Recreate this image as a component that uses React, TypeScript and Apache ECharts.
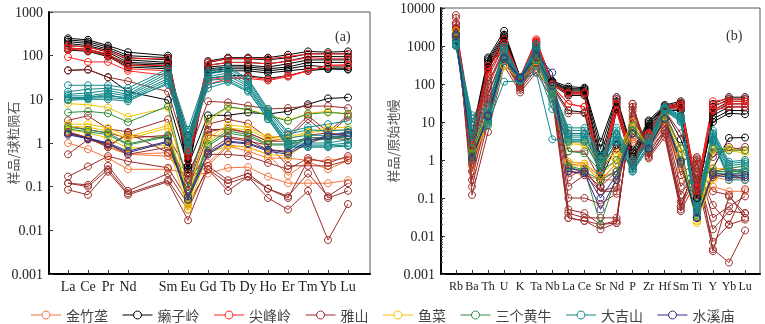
import React, { useEffect, useRef } from "react";
import * as echarts from "echarts";

// ---------- Categories ----------
const reeLabels = ["La", "Ce", "Pr", "Nd", "", "Sm", "Eu", "Gd", "Tb", "Dy", "Ho", "Er", "Tm", "Yb", "Lu"];
const reeX = [0, 1, 2, 3, 5, 6, 7, 8, 9, 10, 11, 12, 13, 14];
const spiderLabels = ["Rb", "Ba", "Th", "U", "K", "Ta", "Nb", "La", "Ce", "Sr", "Nd", "P", "Zr", "Hf", "Sm", "Ti", "Y", "Yb", "Lu"];

const groupNames = ["金竹垄", "癞子岭", "尖峰岭", "雅山", "鱼菜", "三个黄牛", "大吉山", "水溪庙"];
const groupColors = ["#f4743b", "#000000", "#ff2222", "#9b2d2a", "#f2c200", "#2e8b3e", "#12888a", "#2e2e80"];

// ---------- (a) chondrite-normalised REE ----------
const reeJinzhulong = [
  [1.0, 0.72, 0.45, 0.25, 0.25, 0.2, 0.2, 0.27, 0.28, 0.17, 0.12, 0.12, 0.12, 0.14],
  [1.8, 1.35, 0.85, 0.55, 0.6, 0.2, 0.35, 0.9, 0.8, 0.55, 0.18, 0.37, 0.25, 0.4],
  [1.7, 1.3, 0.8, 0.55, 0.5, 0.15, 0.3, 0.85, 0.65, 0.45, 0.45, 0.4, 0.4, 0.45],
];
const reeLaiziling = [
  [250, 230, 170, 120, 100, 0.6, 75, 90, 90, 90, 105, 125, 120, 125],
  [230, 210, 155, 100, 90, 0.4, 70, 85, 85, 80, 90, 110, 110, 110],
  [210, 190, 140, 90, 80, 0.3, 60, 70, 70, 65, 75, 95, 95, 95],
  [190, 170, 130, 80, 70, 0.25, 55, 60, 60, 55, 65, 80, 80, 80],
  [170, 160, 120, 70, 65, 0.2, 50, 55, 55, 50, 55, 70, 70, 70],
  [150, 140, 105, 65, 60, 0.3, 45, 50, 50, 45, 50, 60, 55, 55],
  [140, 130, 100, 60, 55, 1.0, 40, 45, 45, 40, 45, 50, 50, 48],
  [135, 125, 95, 55, 50, 1.5, 30, 35, 35, 30, 35, 45, 50, 50],
  [46, 48, 32, 15, 9.6, 0.3, 4.3, 4.3, 5, 4.6, 5.3, 7.7, 10.5, 11],
];
const reeJianfengling = [
  [170, 155, 125, 85, 85, 0.8, 72, 85, 85, 85, 95, 110, 110, 110],
  [150, 140, 110, 60, 60, 0.5, 60, 70, 70, 65, 75, 90, 85, 85],
  [140, 130, 100, 50, 45, 0.4, 28, 32, 33, 28, 35, 45, 60, 62],
  [93, 72, 72, 45, 35, 0.6, 22, 30, 30, 27, 33, 45, 60, 60],
];
const reeYashan = [
  [46, 48, 32, 26, 15, 0.5, 9, 8.5, 7.2, 6, 6.3, 7, 7, 6.3],
  [3.3, 4.2, 2.1, 1.8, 3.5, 0.15, 2.7, 3.5, 2.8, 1.3, 1.5, 4.2, 1.8, 4.3],
  [0.55, 1.2, 0.9, 1.5, 1.3, 0.1, 2, 2.1, 1.7, 1.1, 1.3, 3.5, 1.5, 4],
  [1.7, 1.25, 0.95, 0.55, 0.8, 0.08, 1.5, 1.4, 1.2, 0.7, 0.65, 1.5, 1.7, 1.5],
  [0.17, 0.29, 0.5, 0.38, 0.27, 0.05, 0.55, 0.55, 0.5, 0.35, 0.25, 0.45, 0.35, 0.5],
  [0.12, 0.11, 0.3, 0.08, 0.2, 0.04, 0.25, 0.12, 0.17, 0.09, 0.06, 0.2, 0.06, 0.12],
  [0.085, 0.065, 0.22, 0.065, 0.13, 0.017, 0.25, 0.08, 0.17, 0.055, 0.03, 0.08, 0.006, 0.04],
  [0.12, 0.1, 0.25, 0.07, 0.14, 0.03, 0.3, 0.14, 0.2, 0.09, 0.055, 0.4, 0.055, 0.08],
  [1.8, 1.3, 0.8, 1.7, 0.6, 0.12, 0.65, 1.3, 1.1, 0.9, 0.3, 0.3, 0.3, 0.4],
  [2.5, 2, 1.7, 1.3, 1.5, 0.2, 1.8, 2.2, 1.7, 1.1, 1.1, 1.2, 1.3, 1.2],
];
const reeYucai = [
  [8, 7.5, 6.5, 4, 6.5, 0.05, 3.2, 6.5, 5.8, 4.5, 3.3, 4.8, 5.3, 4.5],
  [2.7, 2.7, 2.2, 1.4, 2.5, 0.04, 1.3, 2.6, 2.3, 1.4, 1.35, 1.8, 2.2, 2.3],
  [2.4, 2.3, 1.9, 1.25, 2.2, 0.035, 1.05, 2.2, 2.0, 1.25, 1.2, 1.7, 2.0, 2.0],
  [2.0, 1.7, 1.3, 0.75, 0.9, 0.03, 0.6, 0.85, 0.8, 0.55, 0.5, 1.0, 1.3, 1.4],
];
const reeSangehuangniu = [
  [5, 5.3, 4.8, 3, 7, 0.1, 3.6, 6.8, 5.8, 4.2, 3.2, 4.6, 5, 4.7],
  [2.3, 2, 1.7, 0.95, 1.5, 0.06, 0.95, 1.9, 1.55, 0.95, 0.95, 1.35, 1.3, 1.5],
  [2.1, 1.8, 1.55, 0.9, 1.4, 0.05, 0.85, 1.7, 1.4, 0.9, 0.9, 1.2, 1.2, 1.4],
];
const reeDajishan = [
  [21, 21, 21, 18, 50, 2.0, 45, 55, 30, 6, 1.8, 2.3, 2.7, 3.2],
  [15, 17, 18, 15, 45, 1.5, 40, 50, 28, 5.5, 1.6, 2, 1.9, 2],
  [13, 14, 16, 13, 40, 1.2, 38, 45, 25, 5, 1.3, 1.5, 1.5, 1.8],
  [12, 12, 14, 12, 35, 1.0, 33, 40, 22, 4.5, 1.1, 1.2, 1.2, 1.5],
  [11, 11, 12, 11, 30, 0.8, 30, 35, 20, 4.2, 1.0, 1.0, 1.0, 1.2],
  [10, 10.5, 11, 10, 27, 0.7, 27, 30, 18, 4, 0.9, 0.9, 0.9, 1.0],
  [9.5, 10, 10, 9, 24, 0.7, 22, 27, 16, 3.6, 0.85, 0.85, 0.85, 0.9],
  [10, 11, 13, 10, 22, 1.1, 18, 25, 15, 3.5, 0.8, 0.8, 0.8, 0.85],
];
const reeShuiximiao = [
  [1.55, 1.25, 0.95, 0.6, 1.05, 0.05, 0.55, 1.05, 0.95, 0.65, 0.55, 1.0, 1.4, 1.5],
  [1.65, 1.3, 1.0, 0.65, 1.1, 0.06, 0.6, 1.1, 1.0, 0.7, 0.6, 1.1, 1.5, 1.7],
];

// ---------- (b) primitive-mantle-normalised spider ----------
const spJinzhulong = [
  [2500, 0.5, 10, 400, 120, 400, 60, 0.5, 0.4, 0.3, 0.3, 3, 2, 10, 0.4, 0.05, 0.2, 0.15, 0.15],
  [2200, 0.8, 12, 450, 130, 450, 65, 0.9, 0.8, 0.35, 0.5, 4, 2, 12, 0.7, 0.05, 0.4, 0.4, 0.4],
  [2000, 0.7, 11, 420, 125, 420, 60, 0.8, 0.7, 0.3, 0.5, 3.5, 2, 11, 0.6, 0.04, 0.35, 0.3, 0.35],
];
const spLaiziling = [
  [3000, 5, 500, 2500, 150, 1300, 120, 85, 80, 3, 45, 1.8, 11, 28, 35, 0.2, 30, 45, 45],
  [2500, 4, 450, 2000, 150, 1200, 115, 75, 75, 2, 40, 1.5, 10, 26, 32, 0.15, 25, 40, 40],
  [2000, 3, 400, 1800, 150, 1100, 110, 70, 70, 1.2, 35, 1.2, 9, 25, 30, 0.12, 20, 35, 35],
  [1800, 2, 350, 1600, 150, 1000, 105, 65, 65, 0.8, 30, 1.0, 8, 24, 27, 0.1, 18, 30, 30],
  [1600, 1.5, 300, 1500, 150, 900, 100, 60, 60, 0.5, 25, 0.9, 7, 23, 25, 0.1, 15, 25, 25],
  [1500, 1.2, 280, 1300, 150, 850, 100, 55, 55, 0.3, 22, 0.8, 6, 22, 22, 0.12, 12, 20, 20],
  [1400, 1, 250, 1200, 150, 800, 95, 50, 50, 0.2, 20, 0.7, 5, 20, 20, 0.15, 10, 17, 16],
  [1600, 2.5, 300, 900, 130, 600, 90, 20, 18, 0.3, 2.5, 0.6, 4, 20, 3.5, 0.3, 0.6, 3.8, 3.9],
];
const spJianfengling = [
  [4000, 4, 300, 1500, 150, 1500, 100, 60, 60, 0.5, 40, 1.0, 5, 25, 32, 0.2, 35, 40, 40],
  [3000, 3, 250, 1200, 150, 1400, 95, 55, 55, 0.4, 30, 0.9, 5, 24, 28, 0.15, 28, 35, 35],
  [2500, 2.5, 200, 1000, 140, 1300, 90, 30, 25, 0.4, 20, 0.8, 4.5, 22, 25, 0.12, 22, 30, 30],
  [2200, 2, 200, 1000, 140, 1200, 90, 30, 25, 0.5, 20, 0.8, 4, 22, 25, 0.2, 20, 25, 25],
];
const spYashan = [
  [6500, 0.12, 5.5, 300, 60, 200, 40, 0.03, 0.025, 0.015, 0.022, 30, 1.1, 4, 0.045, 0.3, 0.0045, 0.002, 0.014],
  [5500, 0.2, 10, 400, 70, 250, 50, 0.05, 0.04, 0.02, 0.025, 25, 1.3, 5, 0.06, 0.4, 0.007, 0.02, 0.027],
  [4000, 0.3, 20, 500, 80, 300, 60, 0.04, 0.03, 0.03, 0.03, 20, 1.5, 6, 0.08, 0.5, 0.015, 0.045, 0.04],
  [3500, 0.5, 30, 600, 90, 350, 70, 0.1, 0.1, 0.07, 0.13, 15, 2, 8, 0.12, 0.6, 0.065, 0.02, 0.17],
  [3000, 1, 50, 700, 100, 400, 80, 0.2, 0.4, 0.15, 0.2, 12, 2.5, 10, 0.2, 0.8, 0.15, 0.12, 0.03],
  [2500, 2, 80, 800, 110, 500, 90, 0.5, 0.45, 0.2, 0.5, 10, 3, 12, 0.4, 1, 0.35, 0.45, 0.3],
  [2200, 3, 100, 900, 120, 600, 100, 1.7, 1.7, 0.3, 0.8, 8, 3, 15, 1, 1.2, 0.5, 0.6, 0.5],
  [2000, 5, 150, 1000, 100, 700, 100, 5, 5, 0.5, 2, 6, 3, 18, 2, 0.5, 1.5, 1.8, 2.2],
  [2800, 10, 120, 600, 90, 500, 80, 17, 17, 1, 2, 5, 2.5, 20, 5, 0.3, 1.2, 2.2, 1.8],
  [1800, 0.8, 40, 400, 80, 350, 70, 0.35, 0.6, 0.15, 0.15, 25, 1.8, 6, 0.06, 0.9, 0.03, 0.06, 0.11],
  [2000, 1.5, 60, 500, 90, 450, 80, 0.03, 0.025, 0.02, 0.022, 30, 1.2, 5, 0.05, 1.1, 0.004, 0.11, 0.04],
];
const spYucai = [
  [2500, 2, 20, 600, 150, 600, 80, 3, 2.7, 1, 1.5, 10, 2, 15, 2, 0.025, 2, 2, 1.7],
  [2000, 1.5, 15, 500, 150, 500, 70, 2.7, 2.5, 0.8, 1.2, 8, 2, 14, 1.5, 0.022, 1.8, 1.8, 1.5],
  [1800, 1.2, 12, 400, 140, 400, 60, 0.9, 0.8, 0.4, 1, 6, 2, 12, 0.9, 0.03, 0.6, 0.6, 0.7],
  [1600, 1, 10, 300, 130, 300, 50, 0.7, 0.7, 0.3, 0.8, 5, 2, 12, 0.8, 0.025, 0.3, 0.5, 0.5],
];
const spSangehuangniu = [
  [2000, 2, 15, 500, 150, 500, 70, 1.7, 1.5, 0.5, 1, 8, 2, 15, 2, 0.03, 2, 1.8, 1.8],
  [1800, 1.5, 12, 450, 140, 450, 65, 0.7, 0.55, 0.02, 0.4, 6, 2, 13, 1, 0.03, 0.5, 0.5, 0.5],
  [1700, 1.3, 11, 400, 140, 420, 60, 0.65, 0.5, 0.3, 0.5, 6, 2, 13, 0.9, 0.03, 0.45, 0.45, 0.45],
];
const spDajishan = [
  [1300, 15, 25, 1000, 150, 1100, 80, 7, 7, 1.5, 7, 1, 4, 25, 15, 0.07, 6, 0.9, 1],
  [1200, 12, 20, 900, 140, 1000, 70, 6, 6, 1.3, 6, 0.9, 3.5, 24, 14, 0.06, 5, 0.8, 0.9],
  [1100, 10, 18, 800, 140, 900, 60, 5, 5, 1.1, 5, 0.8, 3, 23, 13, 0.05, 5, 0.7, 0.8],
  [1100, 8, 15, 700, 130, 800, 50, 4.5, 4.5, 1, 4.5, 0.7, 3, 22, 12, 0.05, 4.5, 0.6, 0.7],
  [1000, 6, 12, 600, 130, 700, 40, 4, 4, 0.9, 4, 0.6, 2.5, 21, 11, 0.04, 4, 0.5, 0.6],
  [1000, 5, 10, 500, 120, 600, 30, 3.5, 3.5, 0.8, 3.5, 0.5, 2.2, 20, 10, 0.035, 3.5, 0.4, 0.5],
  [1050, 4, 9, 115, 120, 200, 3.5, 3, 3, 0.6, 3, 0.5, 2, 20, 10, 0.03, 3, 0.3, 0.3],
  [1200, 3, 8, 400, 125, 300, 22, 3.2, 3.2, 0.5, 3.2, 0.55, 2.5, 22, 12, 0.04, 3.2, 0.35, 0.4],
];
const spShuiximiao = [
  [2000, 1, 15, 500, 150, 600, 200, 0.5, 0.45, 0.05, 0.3, 5, 2, 12, 0.8, 0.03, 0.4, 0.35, 0.35],
  [1800, 1.2, 14, 450, 140, 500, 90, 0.6, 0.5, 0.1, 0.4, 5, 2, 12, 0.9, 0.03, 0.45, 0.4, 0.4],
];

const reeGroups = [reeJinzhulong, reeLaiziling, reeJianfengling, reeYashan, reeYucai, reeSangehuangniu, reeDajishan, reeShuiximiao];
const spGroups = [spJinzhulong, spLaiziling, spJianfengling, spYashan, spYucai, spSangehuangniu, spDajishan, spShuiximiao];

const SERIF = "Liberation Serif, Times New Roman, serif";
const CJK = "Noto Sans CJK SC, sans-serif";

function logLabel(v: number) {
  const e = Math.round(Math.log10(v));
  return e >= 0 ? String(Math.pow(10, e)) : Math.pow(10, e).toFixed(-e);
}

function makeSeries(groups: number[][][], xs: number[], axis: number) {
  const out: any[] = [];
  groups.forEach((lines, gi) => {
    lines.forEach((arr) => {
      out.push({
        type: "line",
        name: groupNames[gi],
        xAxisIndex: axis,
        yAxisIndex: axis,
        data: arr.map((v, i) => [xs[i], v]),
        symbol: "circle",
        symbolSize: 7,
        lineStyle: { width: 1, color: groupColors[gi] },
        itemStyle: { color: "rgba(255,255,255,0)", borderColor: groupColors[gi], borderWidth: 1 },
        emphasis: { disabled: true },
      });
    });
  });
  return out;
}

export default function App() {
  const ref = useRef<HTMLDivElement>(null);
  useEffect(() => {
    if (!ref.current) return;
    const chart = echarts.init(ref.current, undefined, { renderer: "svg" });
    const spX = spiderLabels.map((_, i) => i);
    const axisLine = { show: true, onZero: false, lineStyle: { color: "#000", width: 2 } };
    const tickStyle = { color: "#333" };
    const option: any = {
      animation: false,
      title: [
        { text: "(a)", left: 330, top: 24, textStyle: { fontFamily: SERIF, fontSize: 14, fontWeight: "normal", color: "#333" } },
        { text: "(b)", left: 721, top: 23, textStyle: { fontFamily: SERIF, fontSize: 14, fontWeight: "normal", color: "#333" } },
      ],
      legend: {
        data: groupNames.map((n, i) => ({
          name: n,
          itemStyle: { color: "#fff", borderColor: groupColors[i], borderWidth: 1 },
          lineStyle: { color: groupColors[i], width: 1 },
        })),
        left: "center",
        top: 303,
        itemWidth: 30,
        itemHeight: 10,
        itemGap: 14,
        textStyle: { fontFamily: CJK, fontSize: 14, color: "#444" },
      },
      grid: [
        { left: 49, top: 12, width: 321, height: 262, show: true, borderColor: "#555", borderWidth: 1 },
        { left: 441, top: 8, width: 319, height: 266, show: true, borderColor: "#555", borderWidth: 1 },
      ],
      xAxis: [
        {
          type: "value",
          gridIndex: 0,
          min: -0.95,
          max: 15.1,
          axisLine,
          splitLine: { show: false },
          axisTick: { show: true, inside: true, length: 4, customValues: reeX, lineStyle: tickStyle },
          axisLabel: {
            customValues: reeX,
            formatter: (v: number) => reeLabels[Math.round(v)] || "",
            fontFamily: SERIF,
            fontSize: 14,
            color: "#222",
            margin: 5,
            showMinLabel: true,
            showMaxLabel: true,
          },
        },
        {
          type: "value",
          gridIndex: 1,
          min: -0.93,
          max: 18.93,
          axisLine,
          splitLine: { show: false },
          axisTick: { show: true, inside: true, length: 4, customValues: spX, lineStyle: tickStyle },
          axisLabel: {
            customValues: spX,
            formatter: (v: number) => spiderLabels[Math.round(v)] || "",
            fontFamily: SERIF,
            fontSize: 12,
            color: "#222",
            margin: 6,
            showMinLabel: true,
            showMaxLabel: true,
            hideOverlap: false,
          },
        },
      ],
      yAxis: [
        {
          type: "log",
          logBase: 10,
          gridIndex: 0,
          min: 0.001,
          max: 1000,
          axisLine,
          splitLine: { show: false },
          axisTick: { show: true, inside: true, length: 4, lineStyle: tickStyle },
          name: "样品/球粒陨石",
          nameLocation: "middle",
          nameGap: 30,
          nameMoveOverlap: false,
          nameTextStyle: { fontFamily: CJK, fontSize: 13, color: "#555" },
          axisLabel: { formatter: logLabel, fontFamily: SERIF, fontSize: 14, color: "#222", margin: 6 },
        },
        {
          type: "log",
          logBase: 10,
          gridIndex: 1,
          min: 0.001,
          max: 10000,
          axisLine,
          splitLine: { show: false },
          axisTick: { show: true, inside: true, length: 4, lineStyle: tickStyle },
          minorTick: { show: true, splitNumber: 9, length: 2, lineStyle: { color: "#555" } },
          name: "样品/原始地幔",
          nameLocation: "middle",
          nameGap: 42,
          nameMoveOverlap: false,
          nameTextStyle: { fontFamily: CJK, fontSize: 13, color: "#555" },
          axisLabel: { formatter: logLabel, fontFamily: SERIF, fontSize: 14, color: "#222", margin: 6 },
        },
      ],
      series: [...makeSeries(reeGroups, reeX, 0), ...makeSeries(spGroups, spX, 1)],
    };
    chart.setOption(option);
    return () => chart.dispose();
  }, []);
  return <div ref={ref} style={{ position: "fixed", left: 0, top: 0, width: 765, height: 324 }} />;
}
